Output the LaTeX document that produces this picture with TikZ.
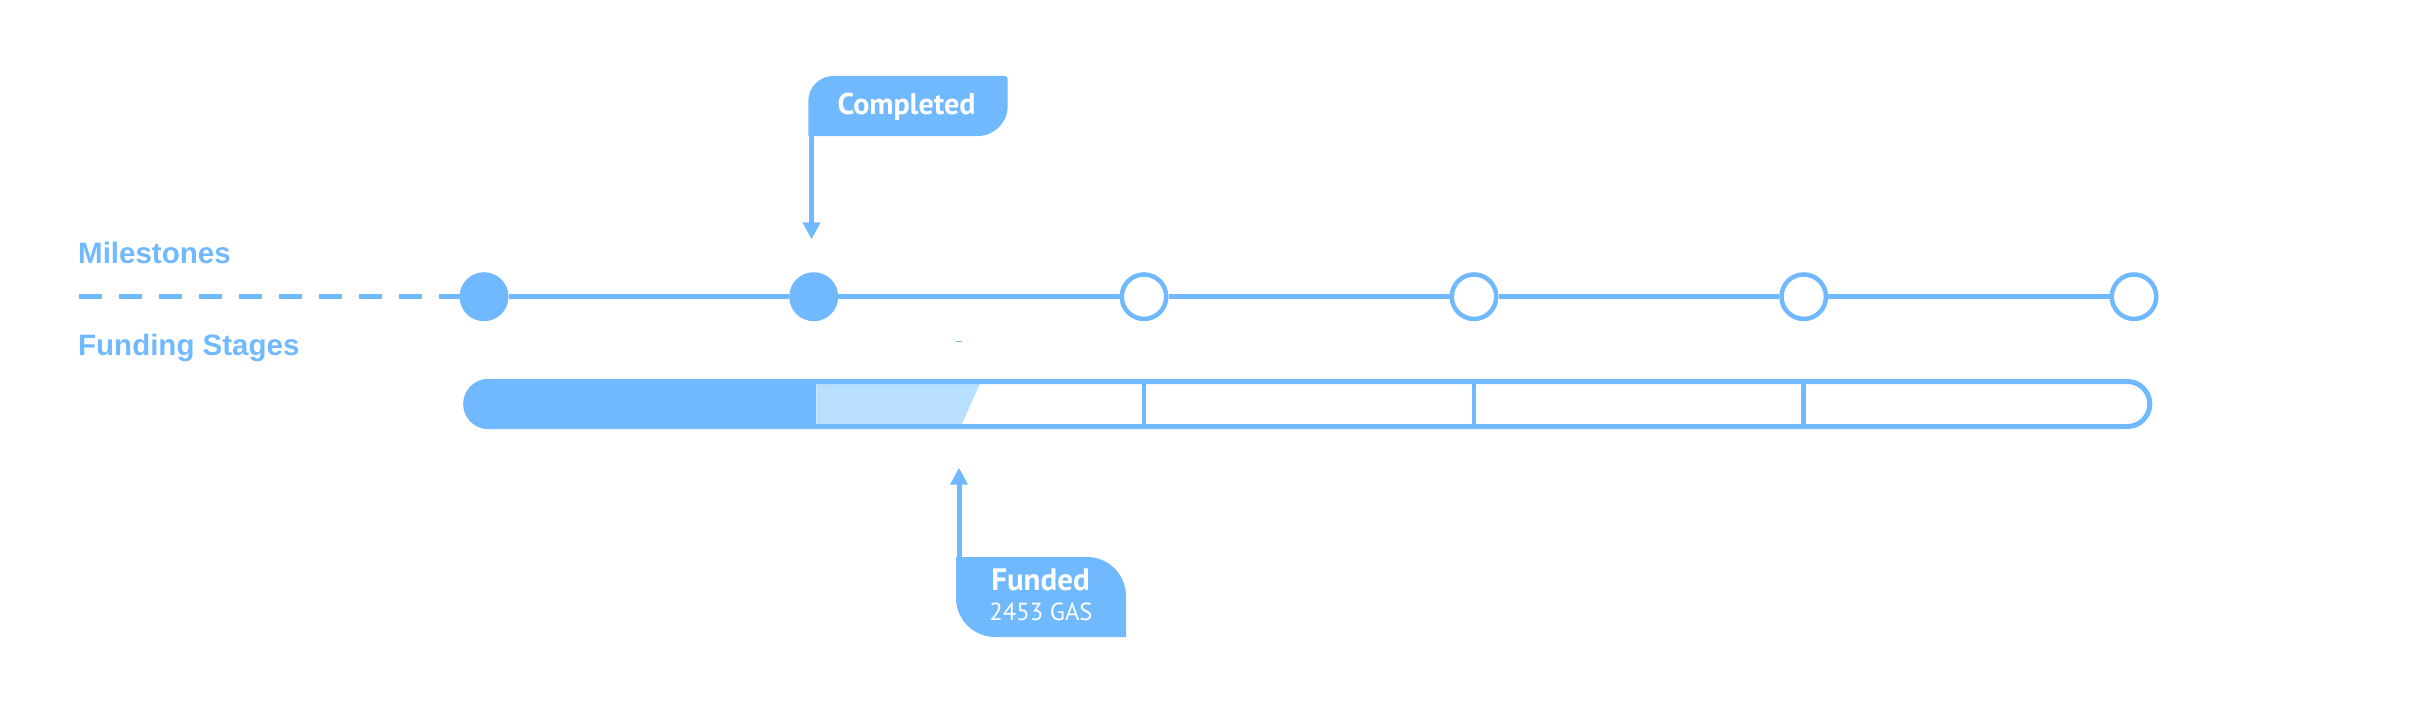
\documentclass[tikz,border=0pt]{standalone}
\usepackage{fontspec}
\setmainfont{Liberation Sans}
\newfontfamily\ptsans{PT Sans}
\usetikzlibrary{arrows.meta,backgrounds}
\definecolor{mblue}{RGB}{112,185,255}
\definecolor{lblue}{RGB}{184,223,255}
\begin{document}
\begin{tikzpicture}[x=1pt,y=-1pt,
  lbl/.style={inner sep=0pt, text=mblue, font=\bfseries\fontsize{29.5}{30}\selectfont, anchor=base west},
  done/.style={circle, fill=mblue, minimum size=49pt, inner sep=0pt},
  todo/.style={circle, draw=mblue, fill=white, line width=4.5pt, minimum size=44.5pt, inner sep=0pt},
  tagtext/.style={inner sep=0pt, text=white, anchor=base},
  conn/.style={draw=mblue, line width=5pt},
  pointer/.style={draw=mblue, line width=5pt, -{Triangle[width=17pt 0 0,length=17pt 0 0]}},
  tagbox/.style={fill=mblue},
  divider/.style={draw=mblue, line width=4.5pt}
]
\useasboundingbox (0,0) rectangle (2410,701);

% labels
\node[lbl] (milestones) at (78,263.3) {Milestones};
\node[lbl] (funding) at (78,355) {Funding Stages};

% milestone circles
\node[done] (m1) at (484,296.7) {};
\node[done] (m2) at (813.7,296.7) {};
\node[todo] (m3) at (1144,296.7) {};
\node[todo] (m4) at (1474,296.7) {};
\node[todo] (m5) at (1803.7,296.7) {};
\node[todo] (m6) at (2134,296.7) {};
\coordinate (dstart) at (79,296.7);

\begin{scope}[on background layer]
  \draw[conn] (m1) -- (m2);
  \draw[conn] (m2) -- (m3);
  \draw[conn] (m3) -- (m4);
  \draw[conn] (m4) -- (m5);
  \draw[conn] (m5) -- (m6);
  \draw[conn, dash pattern=on 22.7pt off 17.3pt] (dstart) -- (m1.center);
\end{scope}

% funding bar
\fill[white, rounded corners=25pt] (463.3,379) rectangle (2152.3,429);
\begin{scope}
  \clip[rounded corners=25pt] (463.3,379) rectangle (2152.3,429);
  \fill[mblue] (460,379) rectangle (816.3,429);
\end{scope}
\fill[lblue] (816.3,383.5) -- (980,383.5) -- (961.7,424.3) -- (816.3,424.3) -- cycle;
\draw[mblue, line width=5pt, rounded corners=22.5pt] (465.8,381.5) rectangle (2149.8,426.5);
\draw[divider] (1144,381.5) -- (1144,426.5);
\draw[divider] (1474,381.5) -- (1474,426.5);
\draw[divider] (1803.7,381.5) -- (1803.7,426.5);
\draw[mblue, line width=1.2pt] (956,341.3) -- (962,341.3);

% Completed tag
\fill[tagbox] (808.3,136) -- (808.3,101) arc(180:270:25) -- (1004.7,76) arc(270:360:3)
  -- (1007.7,106) arc(0:90:30) -- cycle;
\node[tagtext, font=\ptsans\bfseries\fontsize{30}{32}\selectfont] (completed) at (906.5,114) {Completed};
\coordinate (cstart) at (811.5,135);
\coordinate (ctip) at (811.5,239.3);
\draw[pointer] (cstart) -- (ctip);

% Funded tag
\fill[tagbox] (956,557) -- (1087,557) arc(270:360:39) -- (1126,637) -- (995,637) arc(90:180:39) -- cycle;
\node[tagtext, font=\ptsans\bfseries\fontsize{31}{33}\selectfont] (funded) at (1040.5,590) {Funded};
\node[tagtext, font=\ptsans\fontsize{24.7}{26}\selectfont] (gas) at (1041,620) {2453 GAS};
\coordinate (fstart) at (959,558);
\coordinate (ftip) at (959,467.7);
\draw[pointer] (fstart) -- (ftip);
\end{tikzpicture}
\end{document}
